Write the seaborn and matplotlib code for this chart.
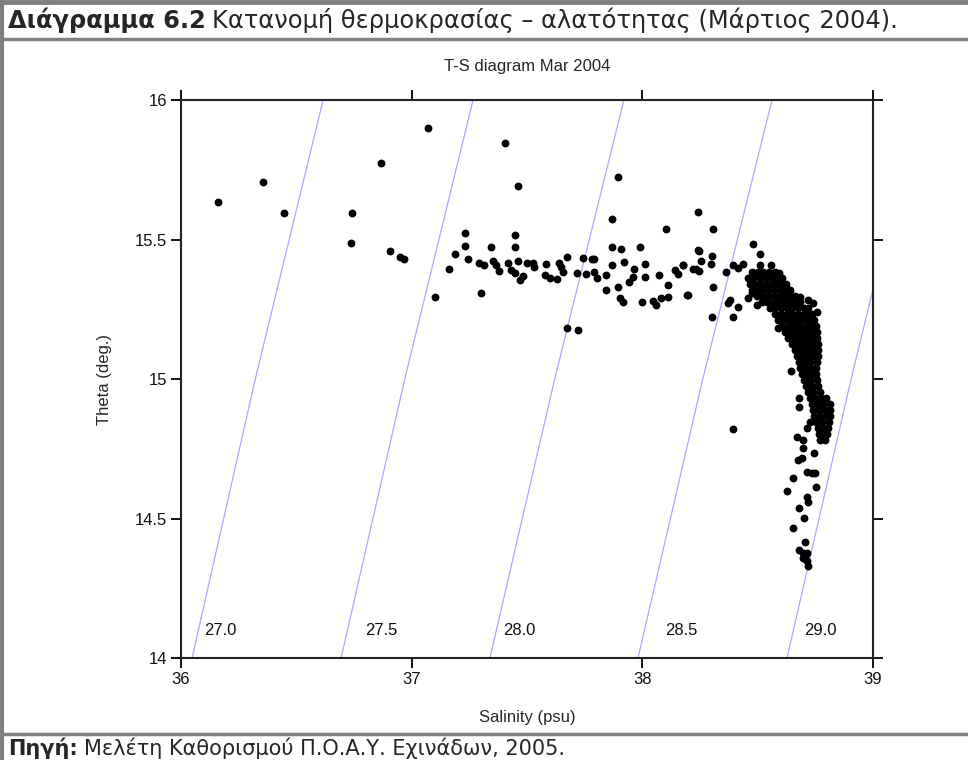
import numpy as np
import pandas as pd
import seaborn as sns
import matplotlib.pyplot as plt
from matplotlib.lines import Line2D

# scattered stations (salinity psu, theta deg C)
sal_outer = [36.162, 36.355, 36.446, 36.741, 36.735, 36.866, 37.072, 36.907, 36.949, 36.965,
             37.189, 37.163, 37.101, 37.231, 37.231, 37.245, 37.300, 37.292, 37.312, 37.342,
             37.354, 37.365, 37.377, 37.404, 37.459, 37.446, 37.446, 37.459, 37.419, 37.429,
             37.448, 37.469, 37.484, 37.501, 37.527, 37.532, 37.582, 37.578, 37.600, 37.631,
             37.639, 37.646, 37.657, 37.673, 37.717, 37.744, 37.757, 37.780, 37.792, 37.792,
             37.805, 37.841, 37.841, 37.867, 37.894, 37.867, 37.909, 37.867, 37.919, 37.894,
             37.904, 37.916, 37.991, 37.965, 37.961, 37.943, 38.013, 38.013, 37.997, 38.048,
             38.059, 38.073, 38.081, 38.112, 38.110, 38.101, 38.141, 38.154, 38.177, 38.198,
             38.240, 38.240, 38.232, 37.673, 37.722,
             38.307, 38.245, 38.303, 38.253, 38.296, 38.177, 38.221, 38.247, 38.307, 38.195,
             38.303, 38.362, 38.391, 38.416, 38.437, 38.481, 38.510, 38.510, 38.556, 38.582,
             38.502, 38.592, 38.380, 38.373, 38.416, 38.394, 38.495, 38.459, 38.474, 38.589,
             38.756, 38.741, 38.719, 38.683, 38.644, 38.680, 38.680, 38.669, 38.697, 38.697,
             38.744, 38.676, 38.690, 38.712, 38.748, 38.734, 38.654, 38.752, 38.626, 38.712,
             38.717, 38.680, 38.702, 38.654, 38.705, 38.680, 38.695, 38.712, 38.705, 38.712,
             38.719, 38.697, 38.726, 38.712, 38.392]
theta_outer = [15.635, 15.706, 15.595, 15.594, 15.487, 15.775, 15.899, 15.460, 15.437, 15.430,
               15.448, 15.394, 15.294, 15.523, 15.477, 15.430, 15.307, 15.415, 15.410, 15.472,
               15.424, 15.407, 15.388, 15.847, 15.693, 15.517, 15.472, 15.424, 15.415, 15.391,
               15.379, 15.355, 15.370, 15.417, 15.415, 15.403, 15.412, 15.373, 15.361, 15.358,
               15.417, 15.403, 15.385, 15.438, 15.381, 15.434, 15.376, 15.431, 15.431, 15.385,
               15.363, 15.373, 15.318, 15.572, 15.725, 15.473, 15.465, 15.408, 15.418, 15.331,
               15.291, 15.275, 15.472, 15.394, 15.367, 15.348, 15.411, 15.367, 15.277, 15.280,
               15.265, 15.373, 15.289, 15.295, 15.338, 15.537, 15.391, 15.376, 15.407, 15.301,
               15.600, 15.463, 15.393, 15.183, 15.177,
               15.537, 15.460, 15.442, 15.424, 15.412, 15.409, 15.393, 15.388, 15.331, 15.301,
               15.223, 15.382, 15.409, 15.397, 15.412, 15.484, 15.447, 15.409, 15.409, 15.373,
               15.379, 15.379, 15.283, 15.271, 15.259, 15.223, 15.265, 15.289, 15.307, 15.182,
               15.241, 15.271, 15.283, 15.295, 15.030, 14.931, 14.901, 14.793, 14.781, 14.752,
               14.736, 14.710, 14.716, 14.668, 14.662, 14.662, 14.644, 14.614, 14.600, 14.576,
               14.558, 14.539, 14.503, 14.465, 14.417, 14.387, 14.377, 14.375, 14.361, 14.349,
               14.330, 14.357, 14.847, 14.823, 14.820]

# dense core of the cluster, one row per theta level
core_rows = [
    (15.384, [38.475, 38.500, 38.525, 38.550, 38.575]),
    (15.362, [38.458, 38.480, 38.510, 38.535, 38.560, 38.585, 38.605]),
    (15.341, [38.466, 38.490, 38.515, 38.540, 38.565, 38.590, 38.610, 38.622]),
    (15.319, [38.475, 38.500, 38.525, 38.550, 38.575, 38.600, 38.620, 38.639]),
    (15.297, [38.497, 38.520, 38.545, 38.570, 38.595, 38.620, 38.640, 38.661]),
    (15.276, [38.518, 38.540, 38.565, 38.590, 38.615, 38.640, 38.660, 38.683]),
    (15.254, [38.553, 38.575, 38.600, 38.625, 38.650, 38.675, 38.700, 38.718]),
    (15.233, [38.575, 38.600, 38.625, 38.650, 38.675, 38.700, 38.720, 38.735]),
    (15.211, [38.588, 38.610, 38.635, 38.660, 38.685, 38.710, 38.730, 38.744]),
    (15.190, [38.605, 38.630, 38.655, 38.680, 38.705, 38.730, 38.752]),
    (15.168, [38.618, 38.640, 38.665, 38.690, 38.715, 38.740, 38.757]),
    (15.147, [38.631, 38.655, 38.680, 38.705, 38.730, 38.757]),
    (15.125, [38.648, 38.670, 38.695, 38.720, 38.745, 38.761]),
    (15.104, [38.661, 38.685, 38.710, 38.735, 38.761]),
    (15.082, [38.670, 38.695, 38.720, 38.745, 38.761]),
    (15.061, [38.679, 38.700, 38.725, 38.757]),
    (15.039, [38.683, 38.705, 38.730, 38.752]),
    (15.018, [38.692, 38.715, 38.740, 38.752]),
    (14.996, [38.700, 38.725, 38.757]),
    (14.975, [38.709, 38.735, 38.761]),
    (14.953, [38.718, 38.740, 38.770]),
    (14.932, [38.726, 38.750, 38.775, 38.796]),
    (14.910, [38.735, 38.760, 38.785, 38.813]),
    (14.889, [38.740, 38.765, 38.790, 38.813]),
    (14.867, [38.744, 38.770, 38.795, 38.813]),
    (14.846, [38.752, 38.780, 38.809]),
    (14.824, [38.761, 38.785, 38.804]),
    (14.803, [38.765, 38.785, 38.800]),
    (14.781, [38.770, 38.790]),
]

# isopycnals (sigma-theta), salinity where each crosses theta 14, 15, 16
sigma_levels = [27.0, 27.5, 28.0, 28.5, 29.0]
sal_at_14 = [36.048, 36.694, 37.339, 37.981, 38.627]
sal_at_15 = [36.322, 36.970, 37.620, 38.262, 38.905]
sal_at_16 = [36.616, 37.266, 37.920, 38.562, 39.200]
label_sal = [36.102, 36.798, 37.396, 38.098, 38.700]

rows = [(s, t) for t, ss in core_rows for s in ss]
pts = pd.DataFrame({
    "salinity": sal_outer + [r[0] for r in rows],
    "theta": theta_outer + [r[1] for r in rows],
})

sns.set_theme(style="ticks")
plt.rcParams['font.family'] = ['Liberation Sans', 'DejaVu Sans']

fig = plt.figure(figsize=(9.68, 7.6), dpi=100)
ax = fig.add_axes([0.187, 0.1342, 0.7149, 0.7342])

iso_color = "#a8a8ff"
for lev, a, b, c, lx in zip(sigma_levels, sal_at_14, sal_at_15, sal_at_16, label_sal):
    sns.lineplot(x=[a, b, c], y=[14, 15, 16], sort=False, color=iso_color,
                 linewidth=0.9, ax=ax, zorder=1)
    ax.text(lx, 14.097, f"{lev:.1f}", fontsize=12, va="center", ha="left", color="#111111")

sns.scatterplot(data=pts, x="salinity", y="theta", color="black", s=32,
                linewidth=0, ax=ax, zorder=3)

ax.set_xlim(36, 39)
ax.set_ylim(14, 16)
ax.set_xticks([36, 37, 38, 39])
ax.set_xticklabels(["36", "37", "38", "39"])
ax.set_yticks([14, 14.5, 15, 15.5, 16])
ax.set_yticklabels(["14", "14.5", "15", "15.5", "16"])
ax.tick_params(direction="out", length=7, width=1.4, top=True, right=True,
               labeltop=False, labelright=False, labelsize=12, colors="#111111", pad=3)
for sp in ax.spines.values():
    sp.set_visible(True)
    sp.set_linewidth(1.5)
    sp.set_color("#222222")

ax.set_xlabel("Salinity (psu)", fontsize=12)
ax.set_ylabel("Theta (deg.)", fontsize=12)
ax.xaxis.set_label_coords(0.5, -0.093)
ax.yaxis.set_label_coords(-0.1, 0.5)
fig.text(527 / 968, 1 - 67 / 760, "T-S diagram Mar 2004", ha="center", va="center", fontsize=12)

# document frame around the figure
gray = "#7f7f7f"
fig.add_artist(Line2D([0, 1], [1 - 2 / 760, 1 - 2 / 760], color=gray, lw=3.5))
fig.add_artist(Line2D([0, 1], [1 - 39 / 760, 1 - 39 / 760], color=gray, lw=2.5))
fig.add_artist(Line2D([0, 1], [1 - 734 / 760, 1 - 734 / 760], color=gray, lw=2.5))
fig.add_artist(Line2D([1.5 / 968, 1.5 / 968], [0, 1], color=gray, lw=3))

hdr_font = ['DejaVu Sans']
hdr_size = 17.4
ftr_size = 15
t1 = fig.text(8 / 968, 1 - 20 / 760, "Διάγραμμα 6.2", fontsize=hdr_size, weight="bold",
              family=hdr_font, va="center", ha="left")
f1 = fig.text(8 / 968, 1 - 748 / 760, "Πηγή:", fontsize=ftr_size, weight="bold",
              family=hdr_font, va="center", ha="left")
fig.canvas.draw()
r = fig.canvas.get_renderer()
e1 = t1.get_window_extent(r)
e2 = f1.get_window_extent(r)
fig.text(e1.x1 / 968 + 6 / 968, 1 - 20 / 760,
         "Κατανομή θερμοκρασίας – αλατότητας (Μάρτιος 2004).",
         fontsize=hdr_size, family=hdr_font, va="center", ha="left")
fig.text(e2.x1 / 968 + 6 / 968, 1 - 748 / 760,
         "Μελέτη Καθορισμού Π.Ο.Α.Υ. Εχινάδων, 2005.",
         fontsize=ftr_size, family=hdr_font, va="center", ha="left")

fig.savefig("out.png", dpi=100)
